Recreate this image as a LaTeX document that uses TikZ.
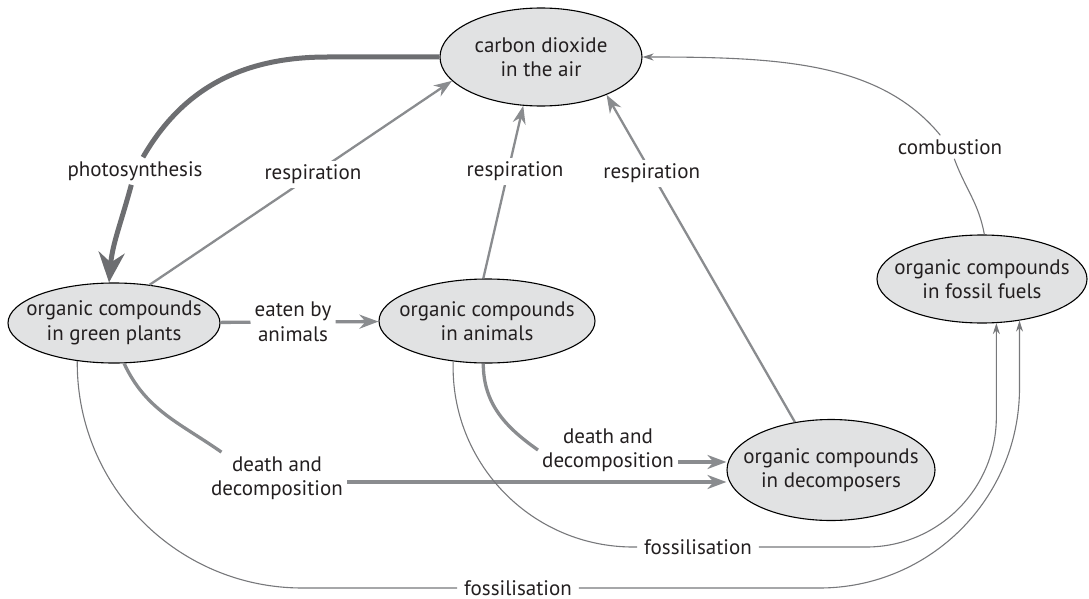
\documentclass[tikz,border=0pt]{standalone}
\usepackage{fontspec}
\setmainfont{PT Sans}
\usetikzlibrary{arrows.meta,shapes.geometric}
\definecolor{poolfill}{HTML}{E1E2E3}
\definecolor{darkline}{HTML}{6D6E71}
\definecolor{midline}{HTML}{8A8C8F}
\definecolor{thinline}{HTML}{77787B}
\definecolor{ink}{HTML}{231F20}
\tikzset{
  pool/.style={ellipse,draw=black,line width=1.1pt,fill=poolfill,inner sep=-20pt,
    align=center,text=ink,font=\fontsize{21}{24.5}\selectfont},
  lbl/.style={align=center,inner sep=4pt,text=ink,font=\fontsize{21}{24.5}\selectfont},
  photoarrow/.style={-{Stealth[length=30pt,width=26pt,inset=10pt]},line width=5pt,draw=darkline},
  resparrow/.style={-{Stealth[length=18pt,width=13pt]},line width=2.3pt,draw=midline},
  flowarrow/.style={-{Stealth[length=19pt,width=14pt]},line width=3.3pt,draw=midline},
  flowline/.style={line width=3.3pt,draw=midline},
  fossline/.style={line width=1.1pt,draw=thinline},
  fossarrow/.style={-{Stealth[length=11pt,width=7pt]},line width=1.1pt,draw=thinline}
}

\begin{document}
\begin{tikzpicture}[x=1pt,y=1pt]
  \useasboundingbox (0,0) rectangle (1089,-599);
  \node[pool,minimum width=202pt,minimum height=98pt] (air) at (541,-57) {carbon dioxide\\in the air};
  \node[pool,minimum width=212pt,minimum height=80pt] (plants) at (114,-323) {organic compounds\\in green plants};
  \node[pool,minimum width=216pt,minimum height=84pt] (animals) at (487,-321) {organic compounds\\in animals};
  \node[pool,minimum width=208pt,minimum height=101pt] (decomposers) at (831,-470) {organic compounds\\in decomposers};
  \node[pool,minimum width=210pt,minimum height=88pt] (fuels) at (982,-279) {organic compounds\\in fossil fuels};
  \node[lbl] (photo) at (135,-171) {photosynthesis};
  \node[lbl] (burn) at (950,-147) {combustion};
  \node[lbl] (eaten) at (293,-322) {eaten by\\animals};
  \node[lbl] (plantdecay) at (277,-478) {death and\\decomposition};
  \node[lbl] (animaldecay) at (608,-450) {death and\\decomposition};
  \node[lbl,inner xsep=7pt] (animalfossil) at (698,-547) {fossilisation};
  \node[lbl,inner xsep=7pt] (plantfossil) at (518,-588) {fossilisation};
  \draw[photoarrow] (air.west) -- ++(-112,0) to[out=180,in=60] (photo) to[out=-105,in=85] (plants.97);
  \draw[resparrow] (plants.47) -- node[lbl,fill=white,pos=0.54] (resp1) {respiration} (air.195);
  \draw[resparrow] (animals.95) -- node[lbl,fill=white,pos=0.62,xshift=7pt] (resp2) {respiration} (air.250);
  \draw[resparrow] (decomposers.127) -- node[lbl,fill=white,pos=0.76] (resp3) {respiration} (air.330);
  \draw[fossarrow] (fuels.87) to[out=100,in=-70] (burn) .. controls (880,-62) and (780,-57) .. (air.east);
  \draw[flowarrow] (plants) -- (eaten) -- (animals);
  \draw[flowline] (plants.-76) to[out=-65,in=145] (plantdecay.155);
  \draw[flowarrow] ([yshift=-4pt]plantdecay.east) -- ([yshift=-4pt]plantdecay.east -| decomposers.west);
  \draw[flowline] (animals.-95) to[out=-90,in=145] (animaldecay.west);
  \draw[flowarrow] ([yshift=-12pt]animaldecay.east) -- ([yshift=-12pt]animaldecay.east -| decomposers.west);
  \draw[fossline,rounded corners=180pt] (animals.-130) |- (animalfossil);
  \draw[fossarrow,rounded corners=130pt] (animalfossil) -| (fuels.-72);
  \draw[fossline,rounded corners=225pt] (plants.-134) |- (plantfossil);
  \draw[fossarrow,rounded corners=200pt] (plantfossil) -| (fuels.-48);
\end{tikzpicture}
\end{document}
